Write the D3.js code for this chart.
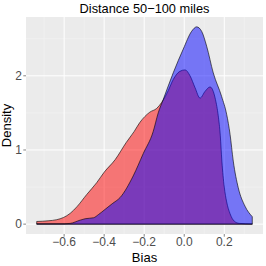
<!DOCTYPE html>
<meta charset="utf-8">
<style>
  body { margin: 0; background: #fff; }
  text { font-family: "Liberation Sans", Arial, sans-serif; }
</style>
<body>
<script src="https://d3js.org/d3.v7.min.js"></script>
<script>

// values
var redX = [-0.737, -0.68, -0.637, -0.603, -0.57, -0.536, -0.487, -0.437, -0.4, -0.345, -0.29, -0.25, -0.222, -0.172, -0.138, -0.113, -0.08, -0.055, -0.022, 0.004, 0.029, 0.054, 0.079, 0.104, 0.129, 0.145, 0.156, 0.17, 0.18, 0.188, 0.2, 0.212, 0.229, 0.25, 0.275, 0.34];
var redY = [0.036, 0.045, 0.06, 0.09, 0.145, 0.235, 0.40, 0.56, 0.70, 0.87, 1.10, 1.25, 1.37, 1.51, 1.56, 1.64, 1.80, 1.95, 2.06, 2.08, 2.00, 1.84, 1.70, 1.79, 1.85, 1.79, 1.68, 1.46, 1.20, 0.85, 0.50, 0.30, 0.14, 0.04, 0.01, 0.003];

var blueX = [-0.737, -0.6, -0.57, -0.52, -0.495, -0.453, -0.428, -0.395, -0.36, -0.32, -0.255, -0.205, -0.155, -0.13, -0.105, -0.055, -0.005, 0.037, 0.062, 0.087, 0.112, 0.145, 0.187, 0.212, 0.229, 0.245, 0.27, 0.304, 0.34];
var blueY = [0.004, 0.005, 0.01, 0.054, 0.073, 0.086, 0.13, 0.20, 0.275, 0.36, 0.65, 0.95, 1.25, 1.5, 1.68, 2.04, 2.36, 2.60, 2.66, 2.60, 2.40, 2.04, 1.72, 1.48, 1.21, 0.85, 0.49, 0.24, 0.10];

var xTicks = [-0.6, -0.4, -0.2, 0.0, 0.2];
var xMinor = [-0.7, -0.5, -0.3, -0.1, 0.1, 0.3];
var yTicks = [0, 1, 2];
var yMinor = [0.5, 1.5, 2.5];

var width = 266, height = 266;
var panel = {left: 26, right: 263, top: 17, bottom: 234};

var x = d3.scaleLinear().domain([-0.7905, 0.3935]).range([panel.left, panel.right]);
var y = d3.scaleLinear().domain([-0.133, 2.793]).range([panel.bottom, panel.top]);

var svg = d3.select("body").append("svg")
    .attr("width", width)
    .attr("height", height);

svg.append("rect")
    .attr("x", panel.left).attr("y", panel.top)
    .attr("width", panel.right - panel.left)
    .attr("height", panel.bottom - panel.top)
    .attr("fill", "#ebebeb");

// minor grid
svg.selectAll(".xminor").data(xMinor).enter().append("line")
    .attr("x1", d => x(d)).attr("x2", d => x(d))
    .attr("y1", panel.top).attr("y2", panel.bottom)
    .attr("stroke", "#f5f5f5").attr("stroke-width", 0.5);
svg.selectAll(".yminor").data(yMinor).enter().append("line")
    .attr("y1", d => y(d)).attr("y2", d => y(d))
    .attr("x1", panel.left).attr("x2", panel.right)
    .attr("stroke", "#f5f5f5").attr("stroke-width", 0.5);

// major grid
svg.selectAll(".xmajor").data(xTicks).enter().append("line")
    .attr("x1", d => x(d)).attr("x2", d => x(d))
    .attr("y1", panel.top).attr("y2", panel.bottom)
    .attr("stroke", "#fff").attr("stroke-width", 1);
svg.selectAll(".ymajor").data(yTicks).enter().append("line")
    .attr("y1", d => y(d)).attr("y2", d => y(d))
    .attr("x1", panel.left).attr("x2", panel.right)
    .attr("stroke", "#fff").attr("stroke-width", 1);

var area = d3.area()
    .x(d => x(d[0]))
    .y0(y(0))
    .y1(d => y(d[1]))
    .curve(d3.curveMonotoneX);

var line = d3.line()
    .x(d => x(d[0]))
    .y(d => y(d[1]))
    .curve(d3.curveMonotoneX);

function drawDensity(xs, ys, fill) {
  var pts = xs.map((v, i) => [v, ys[i]]);
  var first = pts[0], last = pts[pts.length - 1];
  svg.append("path")
      .datum(pts)
      .attr("d", area)
      .attr("fill", fill)
      .attr("fill-opacity", 0.5);
  // outline: drop to zero at both ends, like geom_density
  svg.append("path")
      .attr("d", "M" + x(first[0]) + "," + y(0) +
                 line(pts).replace(/^M/, "L") +
                 "L" + x(last[0]) + "," + y(0) + "Z")
      .attr("fill", "none")
      .attr("stroke", "#000")
      .attr("stroke-width", 0.6);
}

drawDensity(redX, redY, "#ff0000");
drawDensity(blueX, blueY, "#0000ff");

// axis ticks
svg.selectAll(".xtick").data(xTicks).enter().append("line")
    .attr("x1", d => x(d)).attr("x2", d => x(d))
    .attr("y1", panel.bottom).attr("y2", panel.bottom + 2.7)
    .attr("stroke", "#333").attr("stroke-width", 0.6);
svg.selectAll(".ytick").data(yTicks).enter().append("line")
    .attr("y1", d => y(d)).attr("y2", d => y(d))
    .attr("x1", panel.left - 2.7).attr("x2", panel.left)
    .attr("stroke", "#333").attr("stroke-width", 0.6);

svg.selectAll(".xlab").data(xTicks).enter().append("text")
    .attr("x", d => x(d)).attr("y", 246)
    .attr("text-anchor", "middle")
    .attr("font-size", 12)
    .attr("fill", "#4d4d4d")
    .text(d => d3.format(".1f")(d).replace("-", "\u2212"));

svg.selectAll(".ylab").data(yTicks).enter().append("text")
    .attr("x", panel.left - 4).attr("y", d => y(d) + 4.2)
    .attr("text-anchor", "end")
    .attr("font-size", 12)
    .attr("fill", "#4d4d4d")
    .text(d => d);

svg.append("text")
    .attr("x", (panel.left + panel.right) / 2).attr("y", 261.5)
    .attr("text-anchor", "middle")
    .attr("font-size", 13)
    .attr("fill", "#000")
    .text("Bias");

svg.append("text")
    .attr("transform", "translate(11," + ((panel.top + panel.bottom) / 2) + ") rotate(-90)")
    .attr("text-anchor", "middle")
    .attr("font-size", 13)
    .attr("fill", "#000")
    .text("Density");

svg.append("text")
    .attr("x", (panel.left + panel.right) / 2).attr("y", 13)
    .attr("text-anchor", "middle")
    .attr("font-size", 12.8)
    .attr("fill", "#000")
    .text("Distance 50\u2212100 miles");

</script>
